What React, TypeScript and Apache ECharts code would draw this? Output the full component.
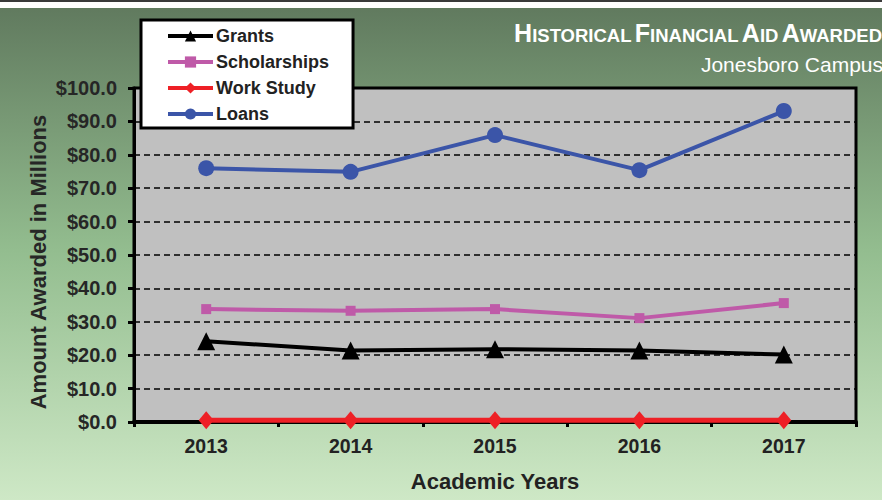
import React, { useEffect, useRef } from "react";
import * as echarts from "echarts";

const years = ["2013", "2014", "2015", "2016", "2017"];
const grants = [24.2, 21.4, 21.8, 21.4, 20.2];
const scholarships = [33.8, 33.3, 33.8, 31.1, 35.6];
const workStudy = [0.5, 0.5, 0.5, 0.5, 0.5];
const loans = [76.0, 74.9, 85.9, 75.4, 93.1];
const yMin = 0;
const yMax = 100;
const yStep = 10;

const F = "'Liberation Sans', Arial, sans-serif";

export default function App() {
  const ref = useRef<HTMLDivElement>(null);
  useEffect(() => {
    document.body.style.margin = "0";
    const chart = echarts.init(ref.current!, undefined, { renderer: "svg" });
    const option: any = {
      animation: false,
      backgroundColor: new echarts.graphic.LinearGradient(0, 0, 0, 1, [
        { offset: 0, color: "#5f785d" },
        { offset: 0.5, color: "#93bd8f" },
        { offset: 1, color: "#cee8c6" },
      ]),
      graphic: [
        { type: "rect", shape: { x: 0, y: 0, width: 882, height: 8 }, style: { fill: "#ffffff" }, z: 10 },
        { type: "rect", shape: { x: 0, y: 0, width: 882, height: 2 }, style: { fill: "#3a3a3a" }, z: 11 },
        {
          type: "text",
          right: 0,
          top: 20,
          z: 20,
          style: {
            text: "{b|H}{s|ISTORICAL} {b|F}{s|INANCIAL} {b|A}{s|ID} {b|A}{s|WARDED}",
            align: "right",
            rich: {
              b: { fontFamily: F, fontWeight: "bold", fontSize: 25, fill: "#ffffff", verticalAlign: "bottom", lineHeight: 25 },
              s: { fontFamily: F, fontWeight: "bold", fontSize: 18.5, fill: "#ffffff", verticalAlign: "bottom", lineHeight: 25 },
            },
          },
        },
        {
          type: "text",
          right: -1,
          top: 54,
          z: 20,
          style: { text: "Jonesboro Campus", fontFamily: F, fontSize: 21, fill: "#ffffff" },
        },
        {
          type: "text",
          x: 38,
          y: 262,
          rotation: Math.PI / 2,
          z: 20,
          style: {
            text: "Amount Awarded in Millions",
            fontFamily: F,
            fontWeight: "bold",
            fontSize: 22,
            fill: "#262626",
            align: "center",
            verticalAlign: "middle",
          },
        },
      ],
      legend: {
        orient: "vertical",
        left: 141,
        top: 20,
        padding: [7, 24, 5, 25],
        itemGap: 8,
        itemWidth: 45,
        itemHeight: 14,
        backgroundColor: "#ffffff",
        borderColor: "#000000",
        borderWidth: 3,
        z: 20,
        lineStyle: { width: 4 },
        textStyle: { fontFamily: F, fontWeight: "bold", fontSize: 18, color: "#222222", padding: [0, 0, 0, -2] },
        data: ["Grants", "Scholarships", "Work Study", "Loans"],
      },
      grid: {
        left: 134,
        right: 26,
        top: 88,
        bottom: 78,
        show: true,
        backgroundColor: "#c0c0c0",
        borderColor: "#000000",
        borderWidth: 3,
      },
      xAxis: {
        type: "category",
        data: years,
        boundaryGap: true,
        axisLine: { lineStyle: { color: "#000000", width: 4 } },
        axisTick: { show: true, length: 5, lineStyle: { color: "#000000", width: 3 } },
        axisLabel: { fontFamily: F, fontWeight: "bold", fontSize: 19.5, color: "#222222", margin: 14 },
        name: "Academic Years",
        nameLocation: "middle",
        nameGap: 48,
        nameTextStyle: { fontFamily: F, fontWeight: "bold", fontSize: 22, color: "#222222" },
      },
      yAxis: {
        type: "value",
        min: yMin,
        max: yMax,
        interval: yStep,
        axisLine: { show: true, lineStyle: { color: "#000000", width: 3 } },
        axisTick: { show: true, length: 6, lineStyle: { color: "#000000", width: 3 } },
        axisLabel: {
          fontFamily: F,
          fontWeight: "bold",
          fontSize: 20,
          color: "#262626",
          margin: 17,
          formatter: (v: number) => "$" + v.toFixed(1),
        },
        splitLine: { show: true, lineStyle: { color: "#000000", width: 1.5, type: [6, 4] } },
      },
      series: [
        {
          name: "Grants",
          type: "line",
          data: grants,
          symbol: "triangle",
          symbolSize: 18,
          lineStyle: { color: "#000000", width: 4 },
          itemStyle: { color: "#000000" },
        },
        {
          name: "Scholarships",
          type: "line",
          data: scholarships,
          symbol: "rect",
          symbolSize: 10,
          lineStyle: { color: "#bf5aa8", width: 4 },
          itemStyle: { color: "#bf5aa8" },
        },
        {
          name: "Work Study",
          type: "line",
          data: workStudy,
          symbol: "diamond",
          symbolSize: [15, 18],
          lineStyle: { color: "#ee2026", width: 5 },
          itemStyle: { color: "#ee2026" },
          z: 3,
        },
        {
          name: "Loans",
          type: "line",
          data: loans,
          symbol: "circle",
          symbolSize: 16,
          lineStyle: { color: "#3b55a8", width: 4 },
          itemStyle: { color: "#3b55a8" },
        },
      ],
    };
    chart.setOption(option);
    return () => chart.dispose();
  }, []);
  return <div ref={ref} style={{ width: 882, height: 500 }} />;
}
